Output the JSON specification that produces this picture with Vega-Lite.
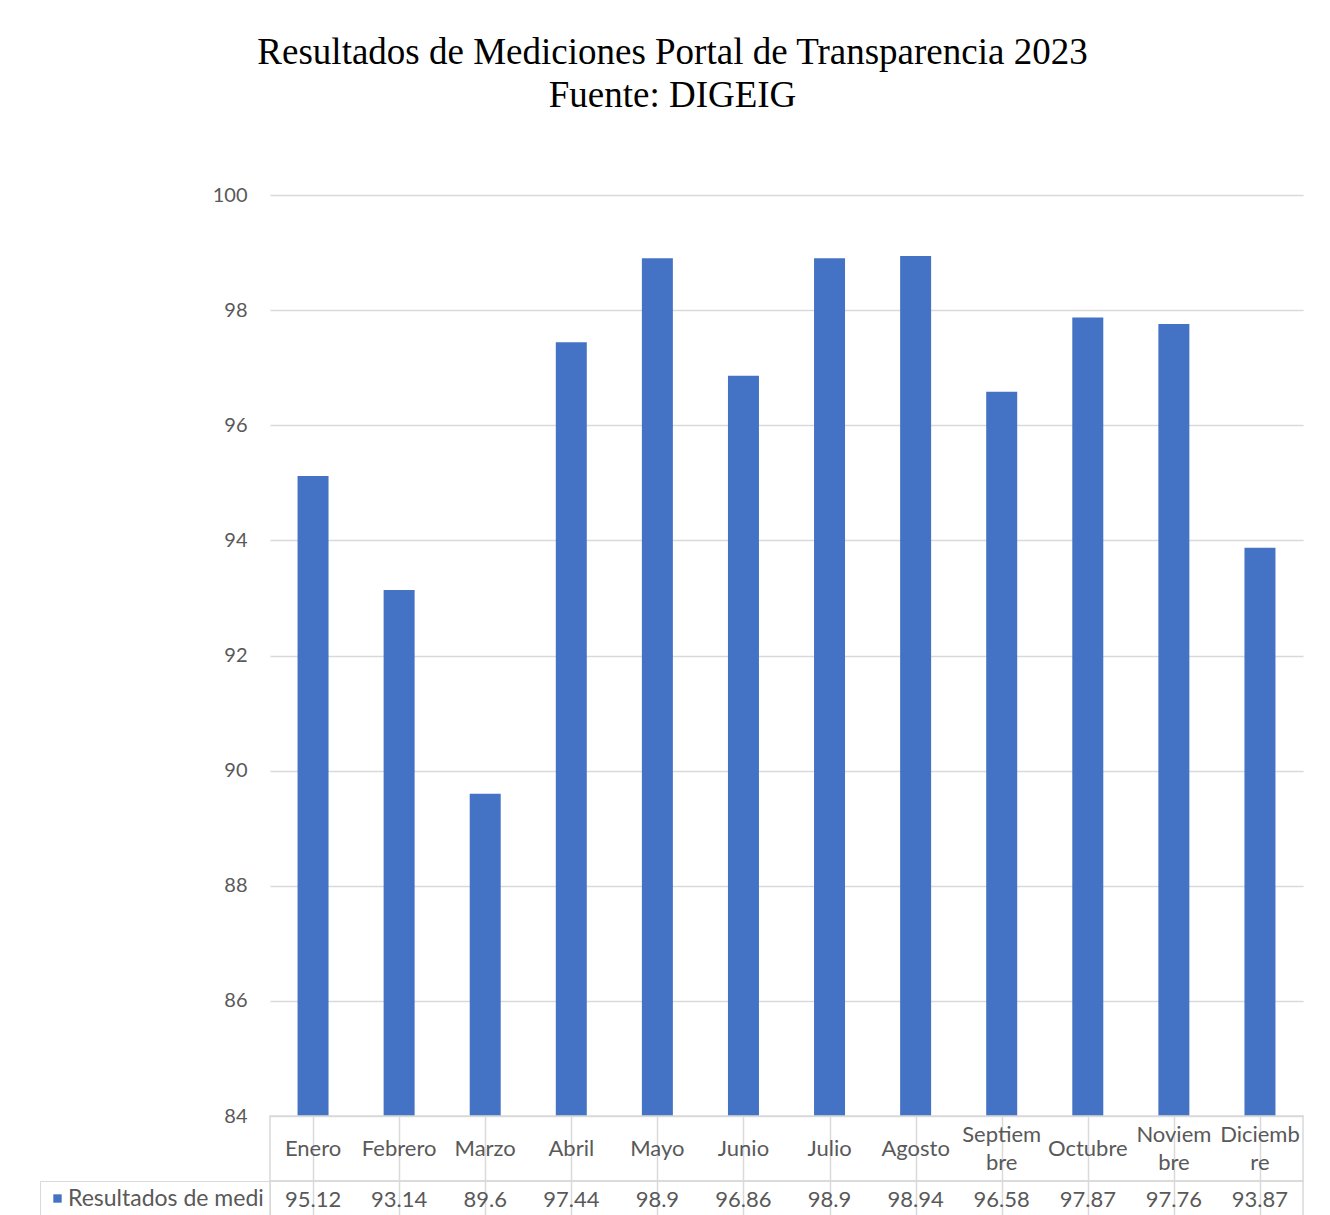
{
  "$schema": "https://vega.github.io/schema/vega-lite/v6.json",
  "autosize": {"type": "pad"},
  "padding": {"left": 38, "top": 34, "right": 0, "bottom": 0},
  "background": "white",
  "title": {
    "text": ["Resultados de Mediciones Portal de Transparencia 2023", "Fuente: DIGEIG"],
    "font": "Liberation Serif",
    "fontSize": 37,
    "fontWeight": "normal",
    "color": "#000000",
    "lineHeight": 43,
    "anchor": "middle",
    "frame": "group",
    "dx": -114,
    "offset": 70
  },
  "bounds": "flush",
  "spacing": 0,
  "resolve": {"scale": {"x": "independent", "y": "independent", "color": "independent"}},
  "datasets": {
    "meses": [
      {"mes": "Enero", "etiqueta": "Enero", "valor": 95.12, "serie": "Resultados de medi"},
      {"mes": "Febrero", "etiqueta": "Febrero", "valor": 93.14, "serie": "Resultados de medi"},
      {"mes": "Marzo", "etiqueta": "Marzo", "valor": 89.6, "serie": "Resultados de medi"},
      {"mes": "Abril", "etiqueta": "Abril", "valor": 97.44, "serie": "Resultados de medi"},
      {"mes": "Mayo", "etiqueta": "Mayo", "valor": 98.9, "serie": "Resultados de medi"},
      {"mes": "Junio", "etiqueta": "Junio", "valor": 96.86, "serie": "Resultados de medi"},
      {"mes": "Julio", "etiqueta": "Julio", "valor": 98.9, "serie": "Resultados de medi"},
      {"mes": "Agosto", "etiqueta": "Agosto", "valor": 98.94, "serie": "Resultados de medi"},
      {"mes": "Septiembre", "etiqueta": "Septiem\nbre", "valor": 96.58, "serie": "Resultados de medi"},
      {"mes": "Octubre", "etiqueta": "Octubre", "valor": 97.87, "serie": "Resultados de medi"},
      {"mes": "Noviembre", "etiqueta": "Noviem\nbre", "valor": 97.76, "serie": "Resultados de medi"},
      {"mes": "Diciembre", "etiqueta": "Diciemb\nre", "valor": 93.87, "serie": "Resultados de medi"}
    ]
  },
  "vconcat": [
    {
      "width": 1033,
      "height": 921,
      "data": {"name": "meses"},
      "view": {"stroke": null},
      "mark": {"type": "bar", "color": "#4472C4", "clip": true},
      "encoding": {
        "x": {
          "field": "mes", "type": "nominal", "sort": null,
          "scale": {"paddingInner": 0.64, "paddingOuter": 0.32},
          "axis": null
        },
        "y": {
          "field": "valor", "type": "quantitative",
          "scale": {"domain": [84, 100], "nice": false, "zero": false},
          "axis": {
            "values": [84, 86, 88, 90, 92, 94, 96, 98, 100],
            "grid": true, "gridColor": "#d9d9d9", "gridWidth": 1.5,
            "domain": false, "ticks": false,
            "labelFont": "Lato", "labelFontSize": 20, "labelColor": "#595959",
            "labelPadding": 23, "title": null
          }
        }
      }
    },
    {
      "width": 1033,
      "height": 65,
      "data": {"name": "meses"},
      "view": {"stroke": "#d9d9d9", "strokeWidth": 1.5},
      "encoding": {
        "x": {
          "field": "mes", "type": "nominal", "sort": null,
          "scale": {"domain": ["Enero", "Febrero", "Marzo", "Abril", "Mayo", "Junio", "Julio", "Agosto", "Septiembre", "Octubre", "Noviembre", "Diciembre"], "paddingInner": 0, "paddingOuter": 0},
          "axis": {"grid": true, "bandPosition": 0, "gridColor": "#d9d9d9", "gridWidth": 1.5, "labels": false, "ticks": false, "domain": false, "title": null}
        },
        "text": {"field": "etiqueta", "type": "nominal"}
      },
      "layer": [
        {
          "transform": [{"filter": "indexof(datum.etiqueta, '\\n') < 0"}],
          "mark": {"type": "text", "font": "Lato", "fontSize": 22, "color": "#595959", "baseline": "middle"}
        },
        {
          "transform": [{"filter": "indexof(datum.etiqueta, '\\n') >= 0"}],
          "mark": {"type": "text", "font": "Lato", "fontSize": 22, "color": "#595959", "lineBreak": "\n", "lineHeight": 28, "baseline": "middle", "dy": -14}
        }
      ]
    },
    {
      "width": 1033,
      "height": 38,
      "data": {"name": "meses"},
      "view": {"stroke": "#d9d9d9", "strokeWidth": 1.5},
      "encoding": {
        "x": {
          "field": "mes", "type": "nominal", "sort": null,
          "scale": {"paddingInner": 0, "paddingOuter": 0},
          "axis": {"grid": true, "bandPosition": 0, "gridColor": "#d9d9d9", "gridWidth": 1.5, "labels": false, "ticks": false, "domain": false, "title": null}
        }
      },
      "layer": [
        {
          "mark": {"type": "text", "font": "Lato", "fontSize": 22, "color": "#595959", "baseline": "middle"},
          "encoding": {"text": {"field": "valor", "type": "quantitative"}}
        },
        {
          "mark": {"type": "square", "opacity": 0},
          "encoding": {
            "color": {
              "field": "serie", "type": "nominal",
              "scale": {"range": ["#4472C4"]},
              "legend": {
                "orient": "left", "title": null, "offset": 0,
                "symbolType": "square", "symbolSize": 70, "symbolOpacity": 1,
                "labelFont": "Lato", "labelFontSize": 23, "labelColor": "#595959",
                "labelOffset": -1, "labelLimit": 400,
                "strokeColor": "#d9d9d9", "padding": 6
              }
            }
          }
        }
      ]
    }
  ]
}
